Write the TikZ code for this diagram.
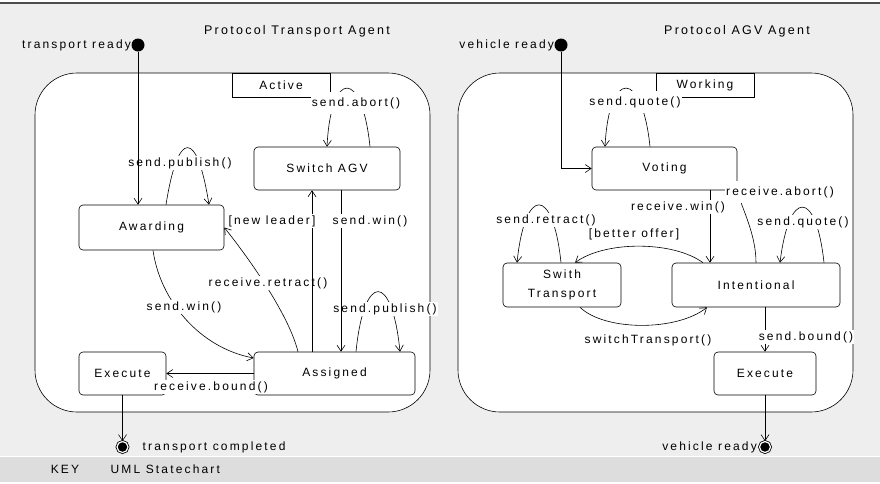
\documentclass[tikz,border=0pt]{standalone}
\usepackage{fontspec}
\setmainfont{Liberation Sans}[LetterSpace=18]
\usetikzlibrary{arrows.meta}
\definecolor{bgGray}{RGB}{238,238,238}
\definecolor{keyGray}{RGB}{221,221,221}

\begin{document}
\begin{tikzpicture}
[x=1pt,y=-1pt,font=\fontsize{12}{14}\selectfont,line width=0.6pt,
  stateDecorate/.style={shape=rectangle,rounded corners=4pt,draw,fill=white,align=center,inner sep=2pt},
  compositeDecorate/.style={shape=rectangle,rounded corners=42pt,draw,fill=white},
  tabDecorate/.style={shape=rectangle,draw,fill=white,minimum width=98pt,minimum height=24pt,inner sep=0pt},
  initDecorate/.style={shape=circle,fill=black,minimum size=13pt,inner sep=0pt},
  finalDecorate/.style={shape=circle,draw,line width=0.8pt,fill=black,double=white,double distance=1.2pt,minimum size=11pt,inner sep=0pt},
  lineDecorate/.style={-{Straight Barb[length=6pt,width=8pt]}},
  labelDecorate/.style={fill=white,inner sep=1pt},
  tallLabel/.style={labelDecorate,inner ysep=5pt}]
\useasboundingbox (0,0) rectangle (880,483);
%% frame and key
\fill[bgGray] (0,4) rectangle (880,456);
\fill[keyGray] (0,457) rectangle (880,482);
\draw[line width=1.2pt,black!70] (0,3) -- (880,3);
\node (keyWord) at (65,469) {KEY};
\node[anchor=west] (keyName) at (107,469) {UML Statechart};
\node[font=\fontsize{12.5}{14}\selectfont] (titleT) at (297,31) {Protocol Transport Agent};
\node[font=\fontsize{12.5}{14}\selectfont] (titleA) at (737,31) {Protocol AGV Agent};
%% composite states
\node (activeState) at (232.5,242.5) [compositeDecorate,minimum width=395pt,minimum height=339pt] {};
\node (workingState) at (655.5,242.5) [compositeDecorate,minimum width=395pt,minimum height=339pt] {};
\node (activeTab) at (281,85) [tabDecorate] {Active};
\node (workingTab) at (705,85) [tabDecorate] {Working};
%% states
\foreach \nodename/\x/\y/\bw/\bh/\txt in {
  awarding/151.5/227.5/145/45/Awarding, switchAGV/327/168.5/146/43/Switch AGV,
  assignedT/334.5/373.5/161/43/Assigned, executeT/122.5/373.5/87/43/Execute,
  voting/664.5/168.5/145/43/Voting, swithTransport/562/285/118/44/{Swith\\[5pt]Transport},
  intentional/756/285/168/44/Intentional, executeA/765/373.5/102/43/Execute}
{
  \node (\nodename) at (\x,\y) [stateDecorate,minimum width=\bw pt,minimum height=\bh pt] {\txt};
}
%% start and end points
\node (initT) at (138,45) [initDecorate,label={[inner sep=0pt]left:transport ready}] {};
\node (initA) at (561,45) [initDecorate,label={[inner sep=0pt]left:vehicle ready}] {};
\node (finalT) at (122.5,447) [finalDecorate,label={[inner sep=0pt,label distance=14pt]right:transport completed}] {};
\node (finalA) at (765,447) [finalDecorate,label={[inner sep=0pt,label distance=2pt]left:vehicle ready}] {};
%% transport agent transitions
\draw[lineDecorate] ([xshift=14.5pt]awarding.north) .. controls +(12,-76) and +(-12,-76) .. ([xshift=57.5pt]awarding.north)
  node[labelDecorate] at (180,163) {send.publish()};
\draw[lineDecorate] ([xshift=43pt]switchAGV.north) .. controls +(-8,-78) and +(4,-78) .. (switchAGV.north)
  node[tallLabel] at (356,103) {send.abort()};
\draw[lineDecorate] ([xshift=1.5pt]awarding.south) .. controls +(7,50) and +(-54,-10) .. ([yshift=15.5pt]assignedT.west)
  node[labelDecorate] at (184,307) {send.win()};
\draw[lineDecorate] ([xshift=-36.5pt]assignedT.north) .. controls +(-10,-40) and +(20,25) .. (awarding.east)
  node[labelDecorate] at (268,283) {receive.retract()};
\draw[lineDecorate] ([xshift=21.5pt]assignedT.north) .. controls +(8,-80) and +(-8,-80) .. ([xshift=65.5pt]assignedT.north)
  node[labelDecorate] at (385,309) {send.publish()};
\draw[lineDecorate] (assignedT.west) -- (executeT.east)
  node[labelDecorate] at (211,387) {receive.bound()};
\coordinate (leaderTop) at ([xshift=-15pt]switchAGV.south);
\draw[lineDecorate] (leaderTop |- assignedT.north) -- (leaderTop)
  node[labelDecorate] at (272,221) {[new leader]};
\coordinate (winTop) at ([xshift=14pt]switchAGV.south);
\draw[lineDecorate] (winTop) -- (winTop |- assignedT.north)
  node[labelDecorate] at (370,221) {send.win()};
\draw[lineDecorate] (initT) -- (initT |- awarding.north);
\draw[lineDecorate] (executeT) -- (finalT);
%% agv agent transitions
\draw[lineDecorate] ([xshift=-14.5pt]voting.north) .. controls +(-8,-78) and +(4,-78) .. ([xshift=-59.5pt]voting.north)
  node[tallLabel] at (635,102) {send.quote()};
\draw[lineDecorate] (intentional.north) .. controls +(0,-30) and +(3,15) .. (voting.south east)
  node[tallLabel] at (780,192) {receive.abort()};
\coordinate (winLeft) at ([xshift=45.5pt]voting.south);
\draw[lineDecorate] (winLeft) -- (winLeft |- intentional.north)
  node[labelDecorate] at (678,207) {receive.win()};
\draw[lineDecorate] ([xshift=68pt]intentional.north) .. controls +(-8,-74) and +(9,-74) .. ([xshift=24pt]intentional.north)
  node[labelDecorate] at (803,222) {send.quote()};
\draw[lineDecorate] ([xshift=-1pt]swithTransport.north) .. controls +(-8,-77) and +(8,-77) .. ([xshift=-45pt]swithTransport.north)
  node[labelDecorate] at (546,220) {send.retract()};
\draw[lineDecorate] ([xshift=-53pt]intentional.north) .. controls +(-30,-22) and +(30,-22) .. ([xshift=13pt]swithTransport.north)
  node at (634,234) {[better offer]};
\draw[lineDecorate] ([xshift=18pt]swithTransport.south) .. controls +(25,24) and +(-30,24) .. ([xshift=-49pt]intentional.south)
  node at (648,340) {switchTransport()};
\draw[lineDecorate] ([xshift=9pt]intentional.south) -- (executeA.north)
  node[labelDecorate] at (806,337) {send.bound()};
\draw[lineDecorate] (initA) |- (voting.west);
\draw[lineDecorate] (executeA) -- (finalA);
\end{tikzpicture}
\end{document}
